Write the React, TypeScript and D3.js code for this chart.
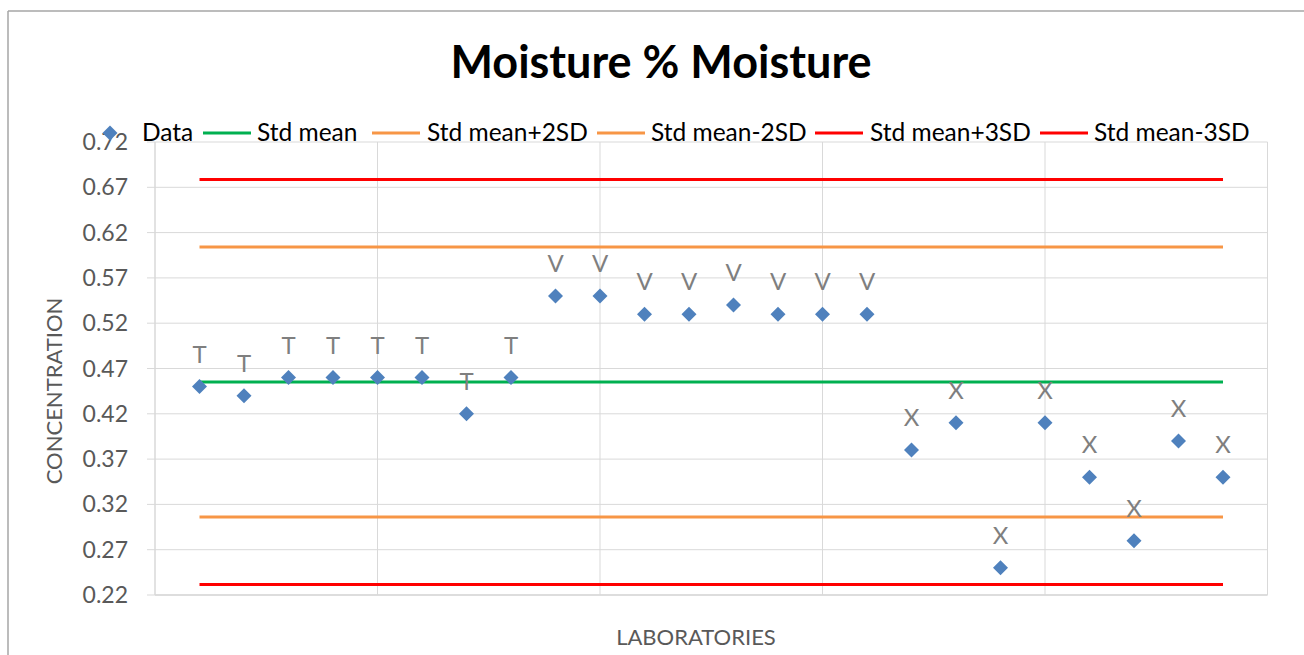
import React from "react";
import * as d3 from "d3";

const labs = [1, 2, 3, 4, 5, 6, 7, 8, 9, 10, 11, 12, 13, 14, 15, 16, 17, 18, 19, 20, 21, 22, 23, 24];
const values = [0.45, 0.44, 0.46, 0.46, 0.46, 0.46, 0.42, 0.46, 0.55, 0.55, 0.53, 0.53, 0.54, 0.53, 0.53, 0.53, 0.38, 0.41, 0.25, 0.41, 0.35, 0.28, 0.39, 0.35];
const pointLabels = ["T", "T", "T", "T", "T", "T", "T", "T", "V", "V", "V", "V", "V", "V", "V", "V", "X", "X", "X", "X", "X", "X", "X", "X"];
const yTicks = [0.22, 0.27, 0.32, 0.37, 0.42, 0.47, 0.52, 0.57, 0.62, 0.67, 0.72];
const xGrid = [5, 10, 15, 20, 25];
const refNames = ["Std mean", "Std mean+2SD", "Std mean-2SD", "Std mean+3SD", "Std mean-3SD"];
const refValues = [0.455, 0.604, 0.306, 0.6785, 0.2315];
const refColors = ["#00b050", "#f79646", "#f79646", "#ff0000", "#ff0000"];

const FONT = "Lato, 'Open Sans', sans-serif";

export default function App() {
  const left = 155, right = 1267.5, top = 142, bottom = 595;
  const x = d3.scaleLinear().domain([0, 25]).range([left, right]);
  const y = d3.scaleLinear().domain([0.22, 0.72]).range([bottom, top]);
  const diamond = (cx: number, cy: number, r: number) =>
    `M${cx},${cy - r}L${cx + r},${cy}L${cx},${cy + r}L${cx - r},${cy}Z`;

  const legendItems = [
    { kind: "dot", label: "Data", color: "#4f81bd", mx: 110, tx: 142 },
    { kind: "line", label: refNames[0], color: refColors[0], mx: 203, tx: 257 },
    { kind: "line", label: refNames[1], color: refColors[1], mx: 372, tx: 427 },
    { kind: "line", label: refNames[2], color: refColors[2], mx: 597, tx: 651 },
    { kind: "line", label: refNames[3], color: refColors[3], mx: 815, tx: 870 },
    { kind: "line", label: refNames[4], color: refColors[4], mx: 1040, tx: 1094 },
  ];

  return (
    <svg width={1304} height={655} style={{ position: "absolute", left: 0, top: 0, background: "#fff" }} fontFamily={FONT}>
      <rect x={0} y={0} width={1304} height={655} fill="#fff" />
      {/* chart border */}
      <line x1={8} y1={11} x2={1304} y2={11} stroke="#a6a6a6" strokeWidth={1.5} />
      <line x1={8} y1={11} x2={8} y2={655} stroke="#a6a6a6" strokeWidth={1.5} />

      <text x={661} y={78} textAnchor="middle" fontSize={45} fontWeight="bold" fill="#000">Moisture % Moisture</text>

      {/* gridlines */}
      {yTicks.map((t) => (
        <line key={"h" + t} x1={left - 8} x2={right} y1={y(t)} y2={y(t)} stroke="#d9d9d9" strokeWidth={1} />
      ))}
      {xGrid.map((t) => (
        <line key={"v" + t} x1={x(t)} x2={x(t)} y1={top} y2={bottom} stroke="#d9d9d9" strokeWidth={1} />
      ))}
      <line x1={left} x2={left} y1={top} y2={bottom} stroke="#d9d9d9" strokeWidth={1.5} />
      <line x1={left} x2={right} y1={bottom} y2={bottom} stroke="#d9d9d9" strokeWidth={1.5} />

      {yTicks.map((t) => (
        <text key={"t" + t} x={128} y={y(t) + 8} textAnchor="end" fontSize={23} fill="#595959">{t.toFixed(2)}</text>
      ))}

      {/* reference lines */}
      {refValues.map((v, i) => (
        <line key={"r" + i} x1={x(labs[0])} x2={x(labs[labs.length - 1])} y1={y(v)} y2={y(v)} stroke={refColors[i]} strokeWidth={3} />
      ))}

      {/* data points */}
      {values.map((v, i) => (
        <path key={"p" + i} d={diamond(x(labs[i]), y(v), 7.5)} fill="#4f81bd" />
      ))}
      {values.map((v, i) => (
        <text key={"l" + i} x={x(labs[i])} y={y(v) - 24} textAnchor="middle" fontSize={24} fill="#7f7f7f">{pointLabels[i]}</text>
      ))}

      {/* legend */}
      {legendItems.map((it, i) => (
        <g key={"lg" + i}>
          {it.kind === "dot" ? (
            <path d={diamond(it.mx, 133, 7.5)} fill={it.color} />
          ) : (
            <line x1={it.mx} x2={it.mx + 48} y1={133} y2={133} stroke={it.color} strokeWidth={3} />
          )}
          <text x={it.tx} y={141} fontSize={24.5} fill="#000">{it.label}</text>
        </g>
      ))}

      <text transform={`translate(62,391) rotate(-90)`} textAnchor="middle" fontSize={22} fill="#595959">CONCENTRATION</text>
      <text x={696} y={645} textAnchor="middle" fontSize={22} fill="#595959">LABORATORIES</text>
    </svg>
  );
}
